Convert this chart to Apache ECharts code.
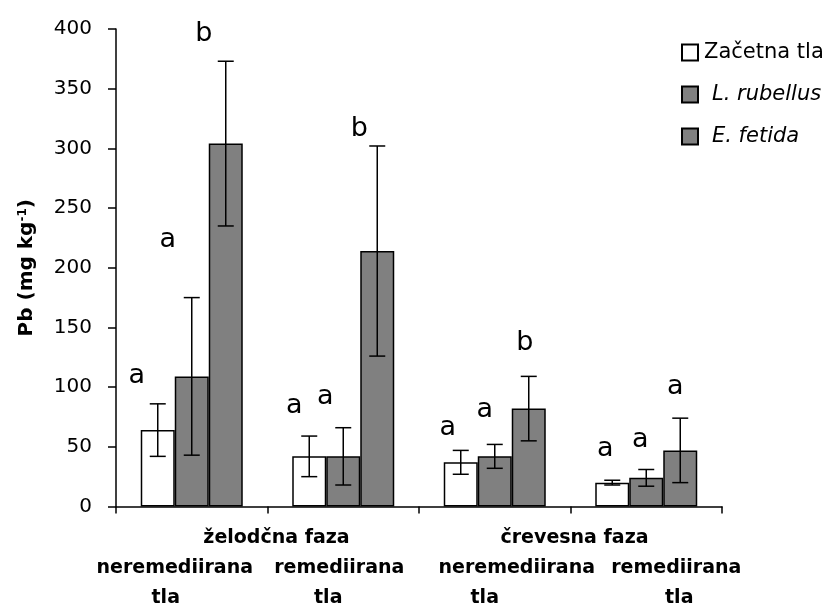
<!DOCTYPE html>
<html>
<head>
<meta charset="utf-8">
<script src="https://cdn.jsdelivr.net/npm/echarts@6/dist/echarts.min.js"></script>
<style>
  html, body { margin: 0; padding: 0; background: #ffffff; }
  #chart { width: 836px; height: 608px; }
</style>
</head>
<body>
<div id="chart"></div>
<script>
// Pb content (mg/kg) by digestion phase and soil treatment
const categories = ['neremediirana\ntla', 'remediirana\ntla', 'neremediirana\ntla', 'remediirana\ntla'];
const phases = ['želodčna faza', 'črevesna faza'];
const seriesNames = ['Začetna tla', 'L. rubellus', 'E. fetida'];

const initialSoil = [64, 42, 37, 20];
const initialSoilErr = [22, 17, 10, 2];
const lRubellus = [109, 42, 42, 24];
const lRubellusErr = [66, 24, 10, 7];
const eFetida = [304, 214, 82, 47];
const eFetidaErr = [69, 88, 27, 27];

const initialSoilLetters = ['a', 'a', 'a', 'a'];
const lRubellusLetters = ['a', 'a', 'a', 'a'];
const eFetidaLetters = ['b', 'b', 'b', 'a'];

const yMin = 0, yMax = 400, yStep = 50;

// ---- layout / styling ----
const FONT = 'DejaVu Sans';
const BAR_W = 34;
const CAP = 8;
// letter offset [dx, dy] from the error bar top, per category then per series
const LETTER_SHIFT = [
  [[-21, -28], [-24, -58], [-22, -27]],
  [[-15, -30], [-18, -31], [-18, -17]],
  [[-13, -22], [-10, -34], [-4, -33]],
  [[-7, -31], [-6, -30], [-5, -31]]
];
// horizontal shift of the two label lines under each category
const LABEL_SHIFT = [[-17, -26], [-4, -15], [22, -10], [30, 33]];
const PHASE_SHIFT = [9, 4];

function padFor(shift) {
  return shift > 0 ? [0, 0, 0, 2 * shift] : [0, -2 * shift, 0, 0];
}

const catRich = {};
LABEL_SHIFT.forEach((s, i) => {
  catRich['a' + i] = { fontFamily: FONT, fontWeight: 'bold', fontSize: 19, lineHeight: 30, color: '#000', padding: padFor(s[0]) };
  catRich['b' + i] = { fontFamily: FONT, fontWeight: 'bold', fontSize: 19, lineHeight: 30, color: '#000', padding: padFor(s[1]) };
});
const phaseRich = {};
PHASE_SHIFT.forEach((s, i) => {
  phaseRich['p' + i] = { fontFamily: FONT, fontWeight: 'bold', fontSize: 19, lineHeight: 22, color: '#000', padding: padFor(s) };
});

const values = [initialSoil, lRubellus, eFetida];
const errors = [initialSoilErr, lRubellusErr, eFetidaErr];
const letters = [initialSoilLetters, lRubellusLetters, eFetidaLetters];
const fills = ['#ffffff', '#808080', '#808080'];

const barSeries = seriesNames.map((name, s) => ({
  name: name,
  type: 'bar',
  data: values[s],
  barWidth: BAR_W,
  barGap: '0%',
  itemStyle: { color: fills[s], borderColor: '#000', borderWidth: 1.5 },
  emphasis: { disabled: true },
  z: 2
}));

const errorSeries = seriesNames.map((name, s) => ({
  type: 'custom',
  silent: true,
  z: 5,
  data: values[s].map((v, i) => [i, v, errors[s][i]]),
  renderItem: function (params, api) {
    const cat = api.value(0), v = api.value(1), e = api.value(2);
    const x = api.coord([cat, v])[0] + (s - 1) * BAR_W;
    const yTop = api.coord([cat, v + e])[1];
    const yBot = api.coord([cat, Math.max(v - e, 0)])[1];
    const ls = { stroke: '#000', lineWidth: 1.5 };
    const sh = LETTER_SHIFT[cat][s];
    return {
      type: 'group',
      children: [
        { type: 'line', shape: { x1: x, y1: yTop, x2: x, y2: yBot }, style: ls },
        { type: 'line', shape: { x1: x - CAP, y1: yTop, x2: x + CAP, y2: yTop }, style: ls },
        { type: 'line', shape: { x1: x - CAP, y1: yBot, x2: x + CAP, y2: yBot }, style: ls },
        {
          type: 'text', x: x + sh[0], y: yTop + sh[1],
          style: { text: letters[s][params.dataIndex], fontFamily: FONT, fontSize: 27, fill: '#000', align: 'center', verticalAlign: 'middle' }
        }
      ]
    };
  }
}));

const chart = echarts.init(document.getElementById('chart'), null, { renderer: 'canvas' });
chart.setOption({
  animation: false,
  backgroundColor: '#ffffff',
  grid: { left: 116, right: 114, top: 29, bottom: 99 },
  legend: {
    data: seriesNames,
    orient: 'vertical',
    left: 681,
    top: 42,
    padding: 0,
    icon: 'rect',
    itemWidth: 16,
    itemHeight: 16,
    itemGap: 21,
    selectedMode: false,
    formatter: function (name) {
      return name === seriesNames[0] ? '{n|' + name + '}' : '{i|' + name + '}';
    },
    textStyle: {
      fontFamily: FONT, fontSize: 21, lineHeight: 21, color: '#000',
      rich: {
        n: { fontFamily: FONT, fontSize: 21, lineHeight: 21, color: '#000', padding: [0, 0, 0, 1] },
        i: { fontFamily: FONT, fontSize: 21, lineHeight: 21, color: '#000', fontStyle: 'italic', padding: [0, 0, 0, 9] }
      }
    }
  },
  xAxis: [
    {
      type: 'category',
      data: categories,
      axisLine: { lineStyle: { color: '#000', width: 1.5 } },
      axisTick: { show: true, length: 7, interval: 0, lineStyle: { color: '#000', width: 1.5 } },
      axisLabel: {
        interval: 0,
        margin: 47,
        formatter: function (val, idx) {
          const parts = val.split('\n');
          return '{a' + idx + '|' + parts[0] + '}\n{b' + idx + '|' + parts[1] + '}';
        },
        rich: catRich
      },
      splitLine: { show: false }
    },
    {
      type: 'category',
      data: phases,
      position: 'bottom',
      axisLine: { show: false },
      axisTick: { show: false },
      axisLabel: {
        interval: 0,
        margin: 21,
        formatter: function (val, idx) { return '{p' + idx + '|' + val + '}'; },
        rich: phaseRich
      },
      splitLine: { show: false }
    }
  ],
  yAxis: {
    type: 'value',
    min: yMin,
    max: yMax,
    interval: yStep,
    name: 'Pb (mg kg{sup|-1})',
    nameLocation: 'middle',
    nameGap: 79,
    nameTextStyle: {
      fontFamily: FONT, fontWeight: 'bold', fontSize: 20, color: '#000',
      rich: { sup: { fontFamily: FONT, fontWeight: 'bold', fontSize: 12, color: '#000', verticalAlign: 'top' } }
    },
    axisLine: { show: true, lineStyle: { color: '#000', width: 1.5 } },
    axisTick: { show: true, length: 8, lineStyle: { color: '#000', width: 1.5 } },
    axisLabel: { margin: 24, fontFamily: FONT, fontSize: 20, color: '#000' },
    splitLine: { show: false }
  },
  series: barSeries.concat(errorSeries)
});
</script>
</body>
</html>
